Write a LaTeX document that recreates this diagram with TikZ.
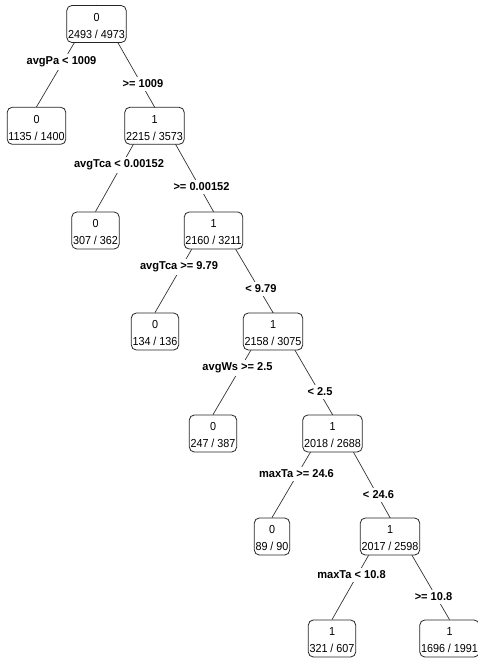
\documentclass[tikz,border=0pt]{standalone}
\usepackage{fontspec}
\setmainfont{Liberation Sans}
\newfontfamily\treefont[FakeStretch=0.93]{Liberation Sans}
\newfontfamily\labfont[FakeStretch=0.97]{Liberation Sans}
\newcommand{\tl}{\rule{0pt}{12pt}}
\usetikzlibrary{backgrounds}
\tikzset{
 tbox/.style={draw=black!85, line width=0.8pt, rounded corners=5pt, fill=white, align=center,
   inner xsep=1.2pt, inner ysep=0pt, minimum height=37pt, font=\treefont\fontsize{11.6}{17}\selectfont},
 lab/.style={fill=white, inner xsep=1pt, inner ysep=3pt, font=\labfont\bfseries\fontsize{11.4}{13}\selectfont},
 br/.style={draw=black!80, line width=0.7pt}
}
\begin{document}
\begin{tikzpicture}[x=1pt,y=-1pt]
\useasboundingbox (0,0) rectangle (478,661);
\node[tbox] (n0) at (96.5,24) {\tl 0\\2493 / 4973};
\node[tbox] (n1) at (36.5,125.8) {\tl 0\\1135 / 1400};
\node[tbox] (n2) at (154.5,125.8) {\tl 1\\2215 / 3573};
\node[tbox] (n3) at (95.5,230.5) {\tl 0\\307 / 362};
\node[tbox] (n4) at (213.5,230.5) {\tl 1\\2160 / 3211};
\node[tbox] (n5) at (155,331.5) {\tl 0\\134 / 136};
\node[tbox] (n6) at (273,331.5) {\tl 1\\2158 / 3075};
\node[tbox] (n7) at (213,433.5) {\tl 0\\247 / 387};
\node[tbox] (n8) at (332.5,433.5) {\tl 1\\2018 / 2688};
\node[tbox] (n9) at (272,536.5) {\tl 0\\89 / 90};
\node[tbox] (n10) at (390,536.5) {\tl 1\\2017 / 2598};
\node[tbox] (n11) at (332,638.5) {\tl 1\\321 / 607};
\node[tbox] (n12) at (449.5,638.5) {\tl 1\\1696 / 1991};
\begin{scope}[on background layer]
\draw[br] (n0.north) -- (n1.north);
\draw[br] (n0.north) -- (n2.north);
\draw[br] (n2.north) -- (n3.north);
\draw[br] (n2.north) -- (n4.north);
\draw[br] (n4.north) -- (n5.north);
\draw[br] (n4.north) -- (n6.north);
\draw[br] (n6.north) -- (n7.north);
\draw[br] (n6.north) -- (n8.north);
\draw[br] (n8.north) -- (n9.north);
\draw[br] (n8.north) -- (n10.north);
\draw[br] (n10.north) -- (n11.north);
\draw[br] (n10.north) -- (n12.north);
\end{scope}
\node[lab] (l1) at (61.5,62) {avgPa < 1009};
\node[lab] (l2) at (143,84) {>= 1009};
\node[lab] (l3) at (119,165) {avgTca < 0.00152};
\node[lab] (l4) at (201.5,187) {>= 0.00152};
\node[lab] (l5) at (179,267) {avgTca >= 9.79};
\node[lab] (l6) at (261,289) {< 9.79};
\node[lab] (l7) at (237.5,368) {avgWs >= 2.5};
\node[lab] (l8) at (320,392) {< 2.5};
\node[lab] (l9) at (296.5,474) {maxTa >= 24.6};
\node[lab] (l10) at (378.5,495) {< 24.6};
\node[lab] (l11) at (351.5,575) {maxTa < 10.8};
\node[lab] (l12) at (433.5,597) {>= 10.8};
\end{tikzpicture}
\end{document}
